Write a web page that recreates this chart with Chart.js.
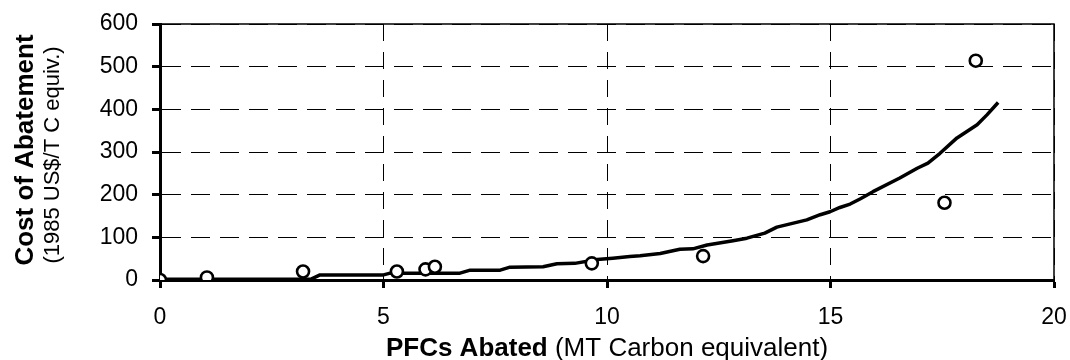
<!DOCTYPE html>
<html>
<head>
<meta charset="utf-8">
<script src="https://cdn.jsdelivr.net/npm/chart.js@4"></script>
<style>
  body { margin: 0; background: #fff; }
  #wrap { width: 1070px; height: 360px; }
</style>
</head>
<body>
<div id="wrap"><canvas id="pfcChart" width="1070" height="360"></canvas></div>
<script>
// observed costs (circles)
const obsX = [0, 1.05, 3.2, 5.3, 5.94, 6.15, 9.66, 12.15, 17.55, 18.25];
const obsY = [0, 6, 20, 20, 25, 31, 39, 56, 181, 514];

// fitted abatement curve
const curveX = [0, 3.38, 3.58, 5.0, 5.15, 6.71, 6.94, 7.61, 7.83, 8.57, 8.88, 9.28, 9.78, 10.13, 10.51, 10.74, 11.19, 11.63, 11.92, 12.24, 12.82, 13.13, 13.53, 13.8, 14.47, 14.77, 14.99, 15.21, 15.44, 15.66, 15.95, 16.55, 16.94, 17.18, 17.45, 17.83, 18.28, 18.5, 18.75];
const curveY = [2, 2, 12, 12, 16, 16, 23, 23, 30, 31, 38, 39, 48, 51, 55, 57, 62, 72, 73, 82, 92, 98, 110, 124, 141, 153, 160, 170, 178, 190, 207, 239, 262, 274, 297, 333, 364, 387, 416];

const xTicks = [0, 5, 10, 15, 20];
const yTicks = [0, 100, 200, 300, 400, 500, 600];

const fam = "'Liberation Sans', Arial, sans-serif";
const tickFont = { family: fam, size: 23 };

// solid frame on top/right + axis titles
const decor = {
    id: 'decor',
    beforeDatasetsDraw(chart) {
        const { ctx, chartArea: a } = chart;
        ctx.save();
        ctx.strokeStyle = '#000';
        ctx.lineWidth = 1.5;
        ctx.beginPath();
        ctx.moveTo(a.left, a.top);
        ctx.lineTo(a.right, a.top);
        ctx.lineTo(a.right, a.bottom);
        ctx.stroke();
        ctx.restore();
    },
    afterDraw(chart) {
        const { ctx, chartArea: a } = chart;
        ctx.save();
        ctx.fillStyle = '#000';
        ctx.textBaseline = 'alphabetic';

        // x title: bold part + plain part
        const boldX = 'PFCs Abated';
        const normX = ' (MT Carbon equivalent)';
        ctx.font = 'bold 26px ' + fam;
        const w1 = ctx.measureText(boldX).width;
        ctx.font = '26px ' + fam;
        const w2 = ctx.measureText(normX).width;
        const sx = (a.left + a.right) / 2 - (w1 + w2) / 2;
        ctx.font = 'bold 26px ' + fam;
        ctx.fillText(boldX, sx, 356);
        ctx.font = '26px ' + fam;
        ctx.fillText(normX, sx + w1, 356);

        // y title, two lines
        ctx.save();
        ctx.translate(33, 150);
        ctx.rotate(-Math.PI / 2);
        ctx.textAlign = 'center';
        ctx.font = 'bold 26px ' + fam;
        ctx.fillText('Cost of Abatement', 0, 0);
        ctx.restore();
        ctx.save();
        ctx.translate(59, 155);
        ctx.rotate(-Math.PI / 2);
        ctx.textAlign = 'center';
        ctx.font = '22px ' + fam;
        ctx.fillText('(1985 US$/T C equiv.)', 0, 0);
        ctx.restore();
        ctx.restore();
    }
};

const ctx = document.getElementById('pfcChart').getContext('2d');
const pfcChart = new Chart(ctx, {
    type: 'scatter',
    data: {
        datasets: [
            {
                label: 'observed',
                data: obsX.map((x, i) => ({ x: x, y: obsY[i] })),
                pointStyle: 'circle',
                pointRadius: 6,
                pointBorderWidth: 2.6,
                pointBackgroundColor: '#fff',
                pointBorderColor: '#000',
                order: 0
            },
            {
                label: 'curve',
                type: 'line',
                data: curveX.map((x, i) => ({ x: x, y: curveY[i] })),
                borderColor: '#000',
                borderWidth: 3.5,
                pointRadius: 0,
                tension: 0,
                fill: false,
                borderJoinStyle: 'round',
                order: 1
            }
        ]
    },
    options: {
        responsive: false,
        animation: false,
        events: [],
        layout: { padding: { left: 0, right: 16, top: 24, bottom: 0 } },
        plugins: {
            legend: { display: false },
            tooltip: { enabled: false }
        },
        scales: {
            x: {
                type: 'linear',
                min: 0,
                max: 20,
                afterFit: s => {
                    s.height = 80;
                    s.paddingLeft = 0;
                    s.paddingRight = 0;
                },
                afterBuildTicks: s => { s.ticks = xTicks.map(v => ({ value: v })); },
                ticks: { color: '#000', font: tickFont, padding: 16, maxRotation: 0 },
                grid: {
                    color: '#000',
                    lineWidth: 1,
                    tickLength: 8,
                    tickWidth: 3,
                    tickColor: '#000',
                    tickBorderDash: []
                },
                border: { display: true, color: '#000', width: 3, dash: [17, 11] }
            },
            y: {
                type: 'linear',
                min: 0,
                max: 600,
                afterFit: s => {
                    s.width = 160;
                    s.paddingTop = 0;
                    s.paddingBottom = 0;
                },
                afterBuildTicks: s => { s.ticks = yTicks.map(v => ({ value: v })); },
                ticks: { color: '#000', font: tickFont, padding: 14 },
                grid: {
                    color: '#000',
                    lineWidth: 1,
                    tickLength: 8,
                    tickWidth: 3,
                    tickColor: '#000',
                    tickBorderDash: []
                },
                border: { display: true, color: '#000', width: 3, dash: [19, 10] }
            }
        }
    },
    plugins: [decor]
});
</script>
</body>
</html>
